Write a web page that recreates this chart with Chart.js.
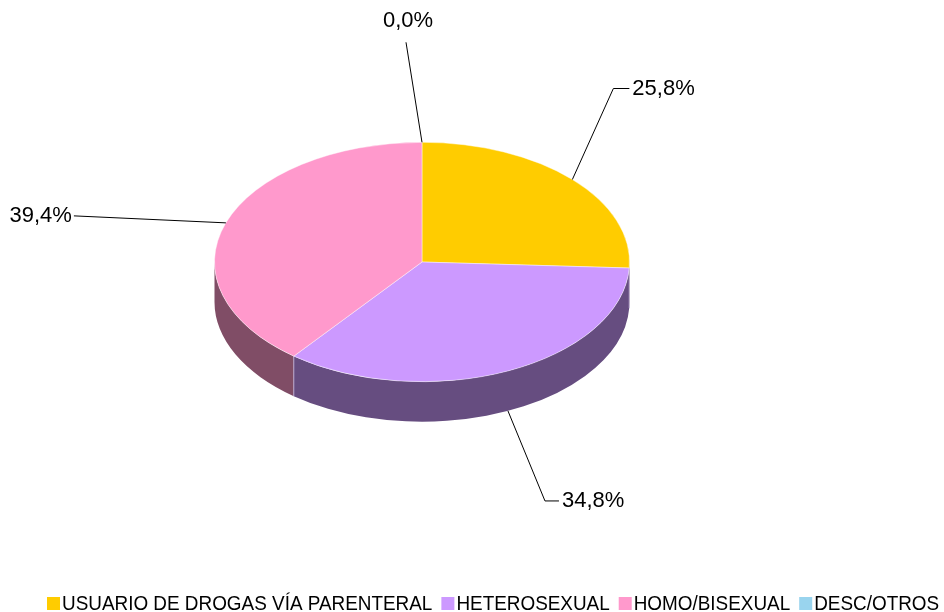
<!DOCTYPE html>
<html>
<head>
<meta charset="utf-8">
<script src="https://cdn.jsdelivr.net/npm/chart.js@4/dist/chart.umd.min.js"></script>
<style>
  html, body { margin: 0; padding: 0; background: #fff; }
  canvas { display: block; }
</style>
</head>
<body>
<canvas id="pie" width="944" height="612"></canvas>
<script>
const categories = ['USUARIO DE DROGAS VÍA PARENTERAL', 'HETEROSEXUAL', 'HOMO/BISEXUAL', 'DESC/OTROS']
const shares = [25.8, 34.8, 39.4, 0.0]
const topColors = ['#FFCC00', '#CC99FF', '#FF99CC', '#99D4EE']
const sideColors = ['#806600', '#664D80', '#804D66', '#4D6A77']

// tilt of the disc and thickness of the side, in pixels
const tilt = 120 / 208
const depth = 40
const font = "'Liberation Sans', Arial, sans-serif"

// leader line: offset of the elbow from the rim point, then horizontal run
const leaders = [
    { dx: 41, dy: -91, run: 16, align: 'left' },
    { dx: 37, dy: 90, run: 14, align: 'left' },
    { dx: -152, dy: -7, run: 0, align: 'right' },
    { dx: -16, dy: -100, run: 0, align: 'top' }
]

const fmt = v => v.toFixed(1).replace('.', ',') + '%'

const pie3d = {
    id: 'pie3d',
    beforeDatasetsDraw(chart) {
        const ctx = chart.ctx
        const arcs = chart.getDatasetMeta(0).data
        const { x, y, outerRadius } = arcs[0].getProps(['x', 'y', 'outerRadius'], true)
        const rx = outerRadius, ry = outerRadius * tilt

        // sides of the front half
        arcs.forEach((arc, i) => {
            const { startAngle, endAngle } = arc.getProps(['startAngle', 'endAngle'], true)
            for (const base of [0, 2 * Math.PI, -2 * Math.PI]) {
                const a1 = Math.max(startAngle, base)
                const a2 = Math.min(endAngle, base + Math.PI)
                if (a2 <= a1) continue
                ctx.beginPath()
                ctx.ellipse(x, y, rx, ry, 0, a1, a2)
                ctx.lineTo(x + rx * Math.cos(a2), y + ry * Math.sin(a2) + depth)
                ctx.ellipse(x, y + depth, rx, ry, 0, a2, a1, true)
                ctx.closePath()
                ctx.fillStyle = sideColors[i]
                ctx.fill()
            }
        })
        // seams between slices on the side
        arcs.forEach(arc => {
            const a = arc.getProps(['endAngle'], true).endAngle
            if (Math.sin(a) > 0.05) {
                const px = x + rx * Math.cos(a), py = y + ry * Math.sin(a)
                ctx.beginPath()
                ctx.moveTo(px, py)
                ctx.lineTo(px, py + depth)
                ctx.strokeStyle = 'rgba(190,175,215,0.9)'
                ctx.lineWidth = 1
                ctx.stroke()
            }
        })

        ctx.save()
        ctx.translate(x, y)
        ctx.scale(1, tilt)
        ctx.translate(-x, -y)
    },
    afterDatasetsDraw(chart) {
        const ctx = chart.ctx
        ctx.restore()

        const arcs = chart.getDatasetMeta(0).data
        ctx.save()
        ctx.font = '22px ' + font
        ctx.fillStyle = '#000'
        ctx.strokeStyle = '#000'
        ctx.lineWidth = 1
        arcs.forEach((arc, i) => {
            const { x, y, outerRadius, startAngle, endAngle } =
                arc.getProps(['x', 'y', 'outerRadius', 'startAngle', 'endAngle'], true)
            const mid = (startAngle + endAngle) / 2
            let px = x + outerRadius * Math.cos(mid)
            let py = y + outerRadius * tilt * Math.sin(mid)
            if (Math.sin(mid) > 0.05) py += depth
            const l = leaders[i]
            const ex = px + l.dx, ey = py + l.dy
            ctx.beginPath()
            ctx.moveTo(px, py)
            ctx.lineTo(ex, ey)
            ctx.lineTo(ex + l.run, ey)
            ctx.stroke()
            const text = fmt(shares[i])
            if (l.align === 'left') {
                ctx.textAlign = 'left'
                ctx.textBaseline = 'middle'
                ctx.fillText(text, ex + l.run + 3, ey)
            } else if (l.align === 'right') {
                ctx.textAlign = 'right'
                ctx.textBaseline = 'middle'
                ctx.fillText(text, ex - 2, ey)
            } else {
                ctx.textAlign = 'center'
                ctx.textBaseline = 'bottom'
                ctx.fillText(text, ex + 2, ey - 10)
            }
        })
        ctx.restore()
    },
    afterDraw(chart) {
        // legend along the bottom
        const ctx = chart.ctx
        const squeeze = 0.9
        ctx.save()
        ctx.font = '21px ' + font
        ctx.textBaseline = 'alphabetic'
        ctx.textAlign = 'left'
        let lx = 47
        categories.forEach((name, i) => {
            ctx.fillStyle = topColors[i]
            ctx.fillRect(lx, 597, 13, 13)
            const w = ctx.measureText(name).width * squeeze
            ctx.save()
            ctx.translate(lx + 15, 610)
            ctx.scale(squeeze, 1)
            ctx.fillStyle = '#000'
            ctx.fillText(name, 0, 0)
            ctx.restore()
            lx += 15 + w + 9
        })
        ctx.restore()
    }
}

new Chart(document.getElementById('pie'), {
    type: 'pie',
    data: {
        labels: categories,
        datasets: [{
            data: shares,
            backgroundColor: topColors,
            borderColor: 'rgba(255,255,255,0.55)',
            borderWidth: 1,
            clip: false
        }]
    },
    options: {
        responsive: false,
        animation: false,
        events: [],
        layout: { padding: { left: 214, right: 314, top: 54, bottom: 142 } },
        plugins: {
            legend: { display: false },
            tooltip: { enabled: false }
        }
    },
    plugins: [pie3d]
})
</script>
</body>
</html>
